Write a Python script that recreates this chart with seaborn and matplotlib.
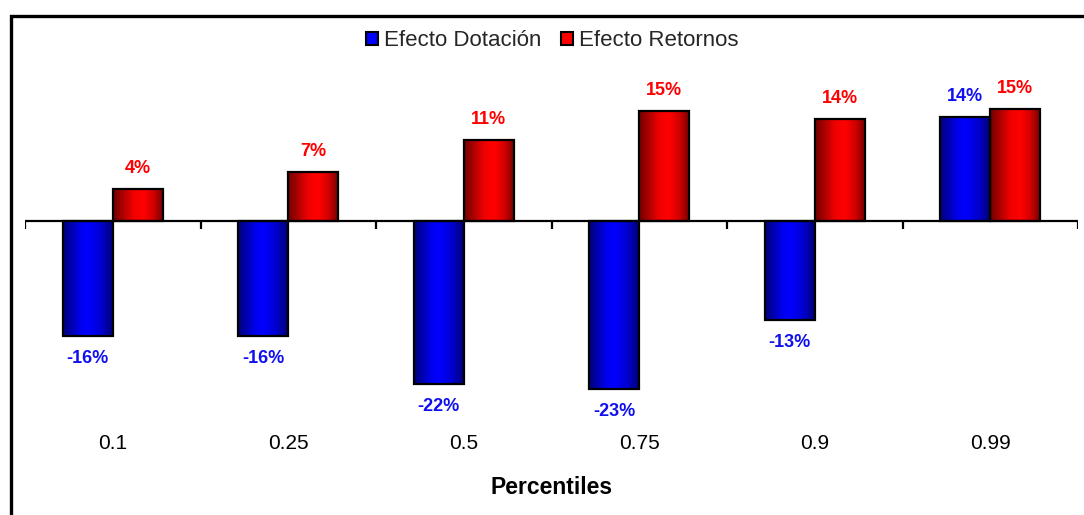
import numpy as np
import pandas as pd
import matplotlib
matplotlib.use("Agg")
import matplotlib.pyplot as plt
from matplotlib.colors import LinearSegmentedColormap
from matplotlib.patches import Patch, Rectangle
import seaborn as sns

# Decomposition of the wage gap by percentile (percent)
percentiles = ["0.1", "0.25", "0.5", "0.75", "0.9", "0.99"]
efecto_dotacion = [-15.6, -15.6, -22.1, -22.7, -13.45, 14.0]
efecto_retornos = [4.3, 6.6, 10.9, 14.8, 13.7, 15.1]
series_names = ["Efecto Dotación", "Efecto Retornos"]

df = pd.DataFrame({
    "Percentil": percentiles * 2,
    "Valor": efecto_dotacion + efecto_retornos,
    "Efecto": [series_names[0]] * len(percentiles) + [series_names[1]] * len(percentiles),
})

sns.set_theme(style="white")
plt.rcParams["font.family"] = ["Liberation Sans", "DejaVu Sans"]

base_colors = {"Efecto Dotación": "#0000FF", "Efecto Retornos": "#FF0000"}
label_colors = {"Efecto Dotación": "#1010F0", "Efecto Retornos": "#FF0000"}
shades = {
    "Efecto Dotación": LinearSegmentedColormap.from_list(
        "azul", [(0.0, "#000078"), (0.35, "#0000F0"), (0.5, "#0000FF"), (0.75, "#0000D0"), (1.0, "#000070")]),
    "Efecto Retornos": LinearSegmentedColormap.from_list(
        "rojo", [(0.0, "#700000"), (0.4, "#F00000"), (0.6, "#FF0000"), (0.8, "#D00000"), (1.0, "#700000")]),
}

fig = plt.figure(figsize=(10.84, 5.15), dpi=100)
ax = fig.add_axes([25 / 1084, 95 / 515, 1053 / 1084, 360 / 515])

sns.barplot(data=df, x="Percentil", y="Valor", hue="Efecto", order=percentiles,
            hue_order=series_names, palette=base_colors, width=0.57,
            edgecolor="black", linewidth=1.6, saturation=1, legend=False, ax=ax)

ax.set_xlim(-0.5, len(percentiles) - 0.5)
ax.set_ylim(-26.9, 21.7)

# horizontal shading inside every bar, clipped to the bar outline
grad = np.linspace(0, 1, 256).reshape(1, -1)
for name, container in zip(series_names, ax.containers):
    for bar in container:
        x0, y0 = bar.get_x(), bar.get_y()
        w, h = bar.get_width(), bar.get_height()
        img = ax.imshow(grad, cmap=shades[name], aspect="auto", interpolation="bicubic",
                        extent=[x0, x0 + w, min(y0, y0 + h), max(y0, y0 + h)], zorder=bar.get_zorder())
        img.set_clip_path(bar)
        bar.set_facecolor("none")
        bar.set_zorder(bar.get_zorder() + 0.5)
    # value labels
    for bar, val in zip(container, container.datavalues):
        xc = bar.get_x() + bar.get_width() / 2
        off = 15 if val >= 0 else -16
        ax.annotate(f"{val:.0f}%", (xc, val), xytext=(0, off), textcoords="offset points",
                    ha="center", va="center", fontsize=13, fontweight="bold",
                    color=label_colors[name])

ax.set_xlim(-0.5, len(percentiles) - 0.5)
ax.set_ylim(-26.9, 21.7)

# category axis along zero with boundary tick marks
ax.axhline(0, color="black", lw=1.6, zorder=5)
ax.vlines(np.arange(len(percentiles) + 1) - 0.5, -1.1, 0, color="black", lw=1.6, zorder=5)

for s in ax.spines.values():
    s.set_visible(False)
ax.set_yticks([])
ax.set_ylabel("")
ax.tick_params(axis="x", length=0, pad=10, labelsize=15, colors="black")
ax.set_xlabel("Percentiles", fontsize=16.5, fontweight="bold", labelpad=17, color="black")

handles = [Patch(facecolor=base_colors[n], edgecolor="black", linewidth=1.5) for n in series_names]
fig.legend(handles, series_names, loc="center", bbox_to_anchor=(552 / 1084, 1 - 41 / 515),
           ncol=2, frameon=False, fontsize=16, handlelength=0.55, handleheight=0.55,
           handletextpad=0.25, columnspacing=0.9)

# chart border (top and left edges visible)
fig.patches.append(Rectangle((11 / 1084, -0.1), 1.2, 1 - 16 / 515 + 0.1, transform=fig.transFigure,
                             fill=False, edgecolor="black", lw=2.4, figure=fig))

fig.savefig("out.png", dpi=100)
